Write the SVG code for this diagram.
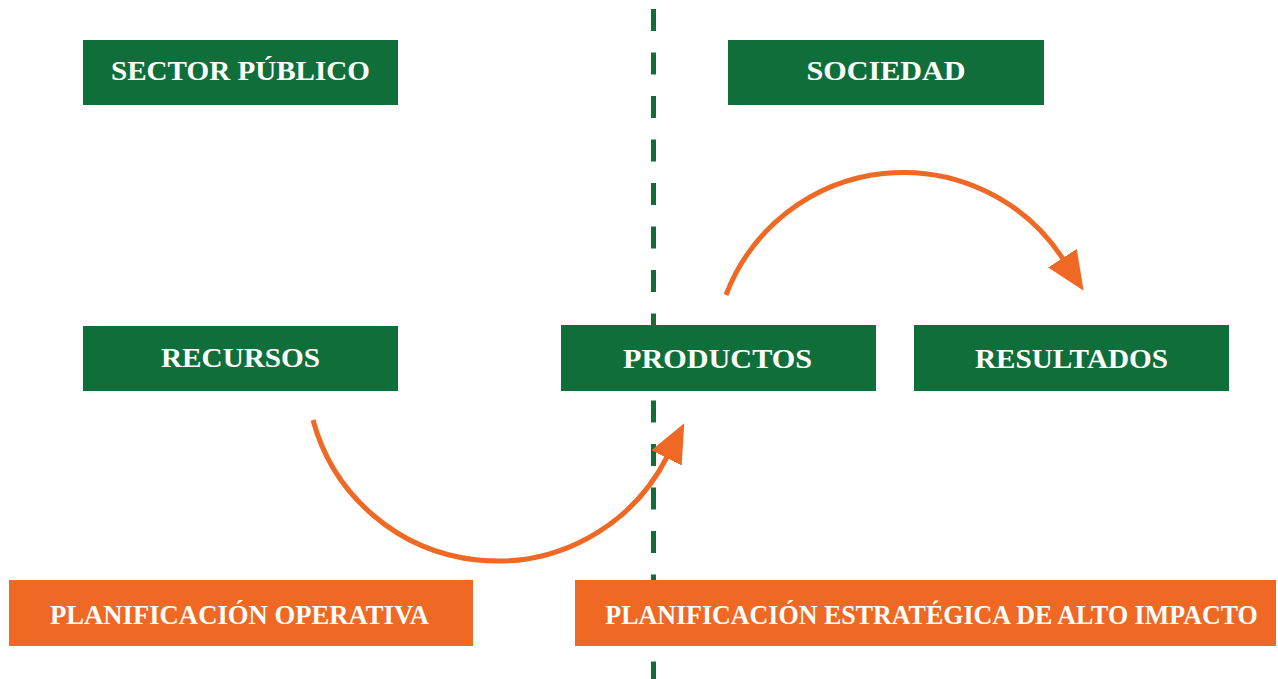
<svg xmlns="http://www.w3.org/2000/svg" width="1278" height="679" viewBox="0 0 1278 679">
  <style>
    .g { fill: #106e3a; }
    .o { fill: #ef6824; }
    .t { font-family: "Liberation Serif", "DejaVu Serif", serif; font-weight: bold; font-size: 27px; fill: #ffffff; text-anchor: middle; }
    .arc { fill: none; stroke: #ef6824; stroke-width: 5; }
    .divider { stroke: #106e3a; stroke-width: 5; stroke-dasharray: 22 21.5; fill: none; }
  </style>
  <defs>
    <marker id="ah" markerUnits="userSpaceOnUse" markerWidth="42" markerHeight="36" refX="1" refY="17" orient="auto">
      <path d="M0,0 L39,17 L0,34 Z" fill="#ef6824"/>
    </marker>
  </defs>
  <rect width="1278" height="679" fill="#ffffff"/>

  <g id="divider">
    <line class="divider" x1="653.5" y1="9" x2="653.5" y2="679"/>
  </g>

  <g id="sector-publico">
    <rect class="g" x="83" y="40" width="315" height="65"/>
    <text class="t" x="240.5" y="79.5" textLength="259" lengthAdjust="spacingAndGlyphs">SECTOR PÚBLICO</text>
  </g>
  <g id="sociedad">
    <rect class="g" x="728" y="40" width="316" height="65"/>
    <text class="t" x="886" y="80" textLength="159" lengthAdjust="spacingAndGlyphs">SOCIEDAD</text>
  </g>
  <g id="recursos">
    <rect class="g" x="83" y="326" width="315" height="65"/>
    <text class="t" x="240.5" y="367" textLength="159" lengthAdjust="spacingAndGlyphs">RECURSOS</text>
  </g>
  <g id="productos">
    <rect class="g" x="561" y="325" width="315" height="66"/>
    <text class="t" x="717.5" y="367.5" textLength="189" lengthAdjust="spacingAndGlyphs">PRODUCTOS</text>
  </g>
  <g id="resultados">
    <rect class="g" x="914" y="325" width="315" height="66"/>
    <text class="t" x="1071.5" y="367.5" textLength="193" lengthAdjust="spacingAndGlyphs">RESULTADOS</text>
  </g>
  <g id="planificacion-operativa">
    <rect class="o" x="9" y="580" width="464" height="66"/>
    <text class="t" x="239.5" y="623.5" textLength="379" lengthAdjust="spacingAndGlyphs">PLANIFICACIÓN OPERATIVA</text>
  </g>
  <g id="planificacion-estrategica">
    <rect class="o" x="575" y="580" width="701" height="66"/>
    <text class="t" transform="translate(931.5,623.5) scale(0.9,1)" x="0" y="0" textLength="725" lengthAdjust="spacingAndGlyphs">PLANIFICACIÓN ESTRATÉGICA DE ALTO IMPACTO</text>
  </g>

  <g id="connectors">
    <path class="arc" d="M313,420 A190.7,190.7 0 0 0 667,457" marker-end="url(#ah)"/>
    <path class="arc" d="M726,295 A190,190 0 0 1 1063,259" marker-end="url(#ah)"/>
  </g>
</svg>
